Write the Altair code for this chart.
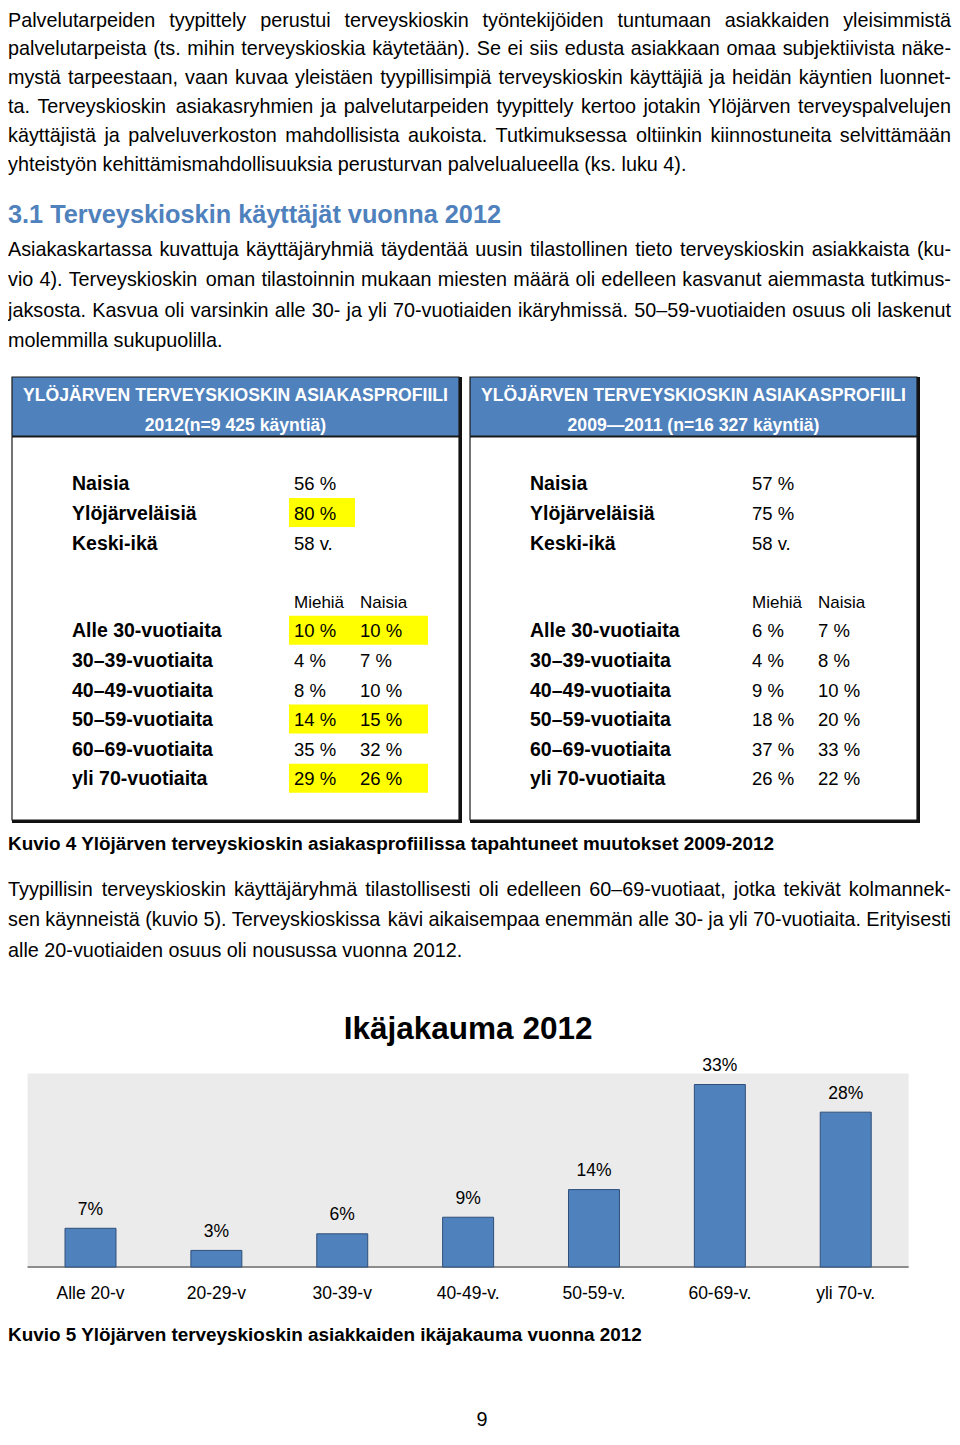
import altair as alt
import pandas as pd

FONT = "Liberation Sans"

# ---------------- text content ----------------
PARA1 = [
    "Palvelutarpeiden tyypittely perustui terveyskioskin työntekijöiden tuntumaan asiakkaiden yleisimmistä",
    "palvelutarpeista (ts. mihin terveyskioskia käytetään). Se ei siis edusta asiakkaan omaa subjektiivista näke-",
    "mystä tarpeestaan, vaan kuvaa yleistäen tyypillisimpiä terveyskioskin käyttäjiä ja heidän käyntien luonnet-",
    "ta. Terveyskioskin asiakasryhmien ja palvelutarpeiden tyypittely kertoo jotakin Ylöjärven terveyspalvelujen",
    "käyttäjistä ja palveluverkoston mahdollisista aukoista. Tutkimuksessa oltiinkin kiinnostuneita selvittämään",
    "yhteistyön kehittämismahdollisuuksia perusturvan palvelualueella (ks. luku 4).",
]
HEADING = "3.1 Terveyskioskin käyttäjät vuonna 2012"
PARA2 = [
    "Asiakaskartassa kuvattuja käyttäjäryhmiä täydentää uusin tilastollinen tieto terveyskioskin asiakkaista (ku-",
    "vio 4). Terveyskioskin oman tilastoinnin mukaan miesten määrä oli edelleen kasvanut aiemmasta tutkimus-",
    "jaksosta. Kasvua oli varsinkin alle 30- ja yli 70-vuotiaiden ikäryhmissä. 50–59-vuotiaiden osuus oli laskenut",
    "molemmilla sukupuolilla.",
]
CAPTION4 = "Kuvio 4 Ylöjärven terveyskioskin asiakasprofiilissa tapahtuneet muutokset 2009-2012"
PARA3 = [
    "Tyypillisin terveyskioskin käyttäjäryhmä tilastollisesti oli edelleen 60–69-vuotiaat, jotka tekivät kolmannek-",
    "sen käynneistä (kuvio 5). Terveyskioskissa kävi aikaisempaa enemmän alle 30- ja yli 70-vuotiaita. Erityisesti",
    "alle 20-vuotiaiden osuus oli nousussa vuonna 2012.",
]
CAPTION5 = "Kuvio 5 Ylöjärven terveyskioskin asiakkaiden ikäjakauma vuonna 2012"
PAGE_NO = "9"

# ---------------- table data ----------------
TABLE_TITLE = "YLÖJÄRVEN TERVEYSKIOSKIN ASIAKASPROFIILI"
TABLE_SUB = ["2012(n=9 425 käyntiä)", "2009—2011 (n=16 327 käyntiä)"]
SUMMARY_LABELS = ["Naisia", "Ylöjärveläisiä", "Keski-ikä"]
SUMMARY_2012 = ["56 %", "80 %", "58 v."]
SUMMARY_0911 = ["57 %", "75 %", "58 v."]
AGE_ROWS = ["Alle 30-vuotiaita", "30–39-vuotiaita", "40–49-vuotiaita",
            "50–59-vuotiaita", "60–69-vuotiaita", "yli 70-vuotiaita"]
MEN_2012 = [10, 4, 8, 14, 35, 29]
WOMEN_2012 = [10, 7, 10, 15, 32, 26]
MEN_0911 = [6, 4, 9, 18, 37, 26]
WOMEN_0911 = [7, 8, 10, 20, 33, 22]
HIGHLIGHT_ROWS = [0, 3, 5]
COL_HEADS = ["Miehiä", "Naisia"]

# ---------------- bar chart data ----------------
CHART_TITLE = "Ikäjakauma 2012"
AGE_CATS = ["Alle 20-v", "20-29-v", "30-39-v", "40-49-v.", "50-59-v.", "60-69-v.", "yli 70-v."]
AGE_PCT = [7, 3, 6, 9, 14, 33, 28]
AXIS_MAX = 35

# ---------------- page geometry ----------------
W, H = 944, 1424
BLUE = "#4F81BD"

# Arial / Liberation Sans advance widths (1/1000 em)
CW = {' ': 278, '.': 278, ',': 278, '(': 333, ')': 333, '-': 333, '–': 556, '%': 889, ':': 278,
      'a': 556, 'b': 556, 'c': 500, 'd': 556, 'e': 556, 'f': 278, 'g': 556, 'h': 556, 'i': 222,
      'j': 222, 'k': 500, 'l': 222, 'm': 833, 'n': 556, 'o': 556, 'p': 556, 'q': 556, 'r': 333,
      's': 500, 't': 278, 'u': 556, 'v': 500, 'w': 722, 'x': 500, 'y': 500, 'z': 500,
      'ä': 556, 'ö': 556, 'å': 556,
      'A': 667, 'B': 667, 'C': 722, 'D': 722, 'E': 667, 'F': 611, 'G': 778, 'H': 722, 'I': 278,
      'J': 500, 'K': 667, 'L': 556, 'M': 833, 'N': 722, 'O': 778, 'P': 667, 'R': 722, 'S': 667,
      'T': 611, 'U': 722, 'V': 667, 'Y': 667, 'Ä': 667, 'Ö': 778}
for d in "0123456789":
    CW[d] = 556


def text_w(s, size):
    return sum(CW.get(c, 556) for c in s) * size / 1000.0


BODY = 19.8
X0, X1 = 8, 951


def para_rows(lines, y0, step):
    rows = []
    for k, line in enumerate(lines):
        y = y0 + k * step
        if k == len(lines) - 1:
            rows.append({"x": X0, "y": y, "t": line})
            continue
        words = line.split(" ")
        ws = [text_w(w, BODY) for w in words]
        gap = (X1 - X0 - sum(ws)) / (len(words) - 1)
        x = X0
        for w, wd in zip(words, ws):
            rows.append({"x": x, "y": y, "t": w})
            x += wd + gap
    return rows


XS = alt.Scale(domain=[8, 8 + W], nice=False, zero=False)
YS = alt.Scale(domain=[8 + H, 8], nice=False, zero=False)


def tlayer(rows, size, weight="normal", color="black", align="left", baseline="alphabetic"):
    return alt.Chart(pd.DataFrame(rows)).mark_text(
        fontSize=size, fontWeight=weight, color=color, align=align,
        baseline=baseline, font=FONT
    ).encode(
        x=alt.X("x:Q", scale=XS, axis=None),
        y=alt.Y("y:Q", scale=YS, axis=None),
        text="t:N",
    )


def rlayer(rows, fill, stroke=None, sw=0):
    kw = dict(fill=fill)
    if stroke:
        kw.update(stroke=stroke, strokeWidth=sw)
    return alt.Chart(pd.DataFrame(rows)).mark_rect(**kw).encode(
        x=alt.X("x:Q", scale=XS, axis=None), x2="x2:Q",
        y=alt.Y("y:Q", scale=YS, axis=None), y2="y2:Q",
    )


layers = []

# body paragraphs (first line kept fully inside the drawing area)
body_rows = (para_rows(PARA1, 26.5, (170.5 - 26.5) / 5)
             + para_rows(PARA2, 255.5, 30.5)
             + para_rows(PARA3, 895.7, 30.5))
layers.append(tlayer(body_rows, BODY))
layers.append(tlayer([{"x": 482, "y": 8 + H - 6, "t": PAGE_NO}], BODY, align="center"))
layers.append(tlayer([{"x": 8, "y": 223, "t": HEADING}], 25.3, "bold", BLUE))
layers.append(tlayer([{"x": 8, "y": 849.5, "t": CAPTION4},
                      {"x": 8, "y": 1341, "t": CAPTION5}], 18.9, "bold"))

# ---------------- profile tables ----------------
TABLES = [
    dict(left=12, right=459, sub=TABLE_SUB[0], summary=SUMMARY_2012, men=MEN_2012, women=WOMEN_2012, hl=True),
    dict(left=470, right=917, sub=TABLE_SUB[1], summary=SUMMARY_0911, men=MEN_0911, women=WOMEN_0911, hl=False),
]
shadow, header, body, yellow = [], [], [], []
head_txt, lab_txt, val_txt, colh_txt = [], [], [], []
for t in TABLES:
    L, R = t["left"], t["right"]
    shadow.append({"x": L, "x2": R + 3, "y": 377, "y2": 823})
    header.append({"x": L, "x2": R, "y": 377, "y2": 436})
    body.append({"x": L, "x2": R, "y": 437, "y2": 820})
    cx = (L + R) / 2
    head_txt.append({"x": cx, "y": 400.5, "t": TABLE_TITLE})
    head_txt.append({"x": cx, "y": 431, "t": t["sub"]})
    lx, v1, v2 = L + 60, L + 282, L + 348
    for k, (lab, val) in enumerate(zip(SUMMARY_LABELS, t["summary"])):
        y = 489.5 + k * 30
        lab_txt.append({"x": lx, "y": y, "t": lab})
        val_txt.append({"x": v1, "y": y, "t": val})
    colh_txt.append({"x": v1, "y": 607.7, "t": COL_HEADS[0]})
    colh_txt.append({"x": v2, "y": 607.7, "t": COL_HEADS[1]})
    for k, lab in enumerate(AGE_ROWS):
        y = 637.3 + k * 29.6
        lab_txt.append({"x": lx, "y": y, "t": lab})
        val_txt.append({"x": v1, "y": y, "t": f"{t['men'][k]} %"})
        val_txt.append({"x": v2, "y": y, "t": f"{t['women'][k]} %"})
        if t["hl"] and k in HIGHLIGHT_ROWS:
            yellow.append({"x": v1 - 5, "x2": v2 + 68, "y": y - 21.5, "y2": y + 7.5})
    if t["hl"]:
        yellow.append({"x": v1 - 5, "x2": v1 + 61, "y": 498, "y2": 527})

layers.append(rlayer(shadow, "#111111"))
layers.append(rlayer(header, BLUE, "#1a1a1a", 1.2))
layers.append(rlayer(body, "white", "#1a1a1a", 1.2))
layers.append(rlayer(yellow, "#FFFF00"))
layers.append(tlayer(head_txt, 17.6, "bold", "white", align="center"))
layers.append(tlayer(lab_txt, 19.5, "bold"))
layers.append(tlayer(val_txt, 18.5))
layers.append(tlayer(colh_txt, 17))

# ---------------- bar chart (own scales) ----------------
BASE_Y, PX_PER_PCT = 1267, 5.53
C0, STEP = 90.5, 125.87
bx = alt.Scale(domain=[(8 - C0) / STEP, (8 + W - C0) / STEP], nice=False, zero=False)
by = alt.Scale(domain=[(BASE_Y - 8 - H) / PX_PER_PCT, (BASE_Y - 8) / PX_PER_PCT], nice=False, zero=False)
n = len(AGE_CATS)
bar_df = pd.DataFrame({"cat": AGE_CATS, "pct": AGE_PCT, "i": list(range(n))})
frame_df = pd.DataFrame({"a": [-0.5], "b": [n - 0.5], "lo": [0], "hi": [AXIS_MAX],
                         "mid": [(n - 1) / 2], "t": [CHART_TITLE]})

bg = alt.Chart(frame_df).mark_rect(fill="#EBEBEB").encode(
    x=alt.X("a:Q", scale=bx, axis=None), x2="b:Q",
    y=alt.Y("lo:Q", scale=by, axis=None), y2="hi:Q")
base_rule = alt.Chart(frame_df).mark_rule(color="#8C8C8C", strokeWidth=2).encode(
    x=alt.X("a:Q", scale=bx, axis=None), x2="b:Q",
    y=alt.Y("lo:Q", scale=by, axis=None))
bars = alt.Chart(bar_df).transform_calculate(
    a="datum.i - 0.2025", b="datum.i + 0.2025"
).mark_bar(fill=BLUE, stroke="#2F4F7A", strokeWidth=1).encode(
    x=alt.X("a:Q", scale=bx, axis=None), x2="b:Q",
    y=alt.Y("pct:Q", scale=by, axis=None), y2=alt.datum(0))
vlabels = alt.Chart(bar_df).transform_calculate(
    lab="datum.pct + '%'"
).mark_text(fontSize=17.5, font=FONT, color="black", align="center", baseline="alphabetic", dy=-13.5).encode(
    x=alt.X("i:Q", scale=bx, axis=None),
    y=alt.Y("pct:Q", scale=by, axis=None), text="lab:N")
clabels = alt.Chart(bar_df).transform_calculate(zero="0").mark_text(
    fontSize=17.5, font=FONT, color="black", align="center", baseline="alphabetic", dy=32).encode(
    x=alt.X("i:Q", scale=bx, axis=None),
    y=alt.Y("zero:Q", scale=by, axis=None), text="cat:N")
ctitle = alt.Chart(frame_df).mark_text(
    fontSize=31.5, font=FONT, fontWeight="bold", color="black", align="center",
    baseline="alphabetic", dy=-34).encode(
    x=alt.X("mid:Q", scale=bx, axis=None),
    y=alt.Y("hi:Q", scale=by, axis=None), text="t:N")

layers += [bg, base_rule, bars, vlabels, clabels, ctitle]

chart = alt.layer(*layers).resolve_scale(x="independent", y="independent").properties(
    width=W, height=H, autosize=alt.AutoSizeParams(type="none"), padding=0,
    background="white",
).configure_view(stroke=None)

chart.save("out.html", embed_options={"renderer": "svg", "actions": False})
